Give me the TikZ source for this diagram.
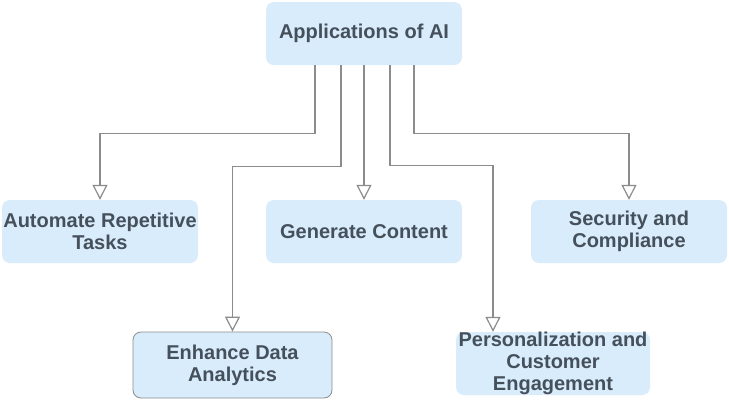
\documentclass[tikz,border=0pt]{standalone}
\usepackage{fontspec}
\setmainfont{Liberation Sans}
\usetikzlibrary{arrows.meta,positioning}
\definecolor{boxfill}{HTML}{D8ECFC}
\definecolor{boxtext}{HTML}{45505B}
\definecolor{linkgray}{HTML}{8C8C8C}
\tikzset{
  box/.style={rectangle, rounded corners=8pt, fill=boxfill, text=boxtext,
    minimum width=196pt, minimum height=63pt, inner sep=0pt, align=center,
    font=\fontsize{20}{22}\selectfont\bfseries},
  link/.style={draw=linkgray, line width=1.2pt,
    -{Triangle[open, length=15pt, width=15pt, fill=white]}}
}
\begin{document}
\begin{tikzpicture}[x=1pt, y=-1pt]
  \useasboundingbox[fill=white] (0,0) rectangle (729,400);

  \node (root) [box] at (364,33.5) {Applications of AI};
  \node (gen) [box, below of=root, node distance=198pt] {Generate Content};
  \node (auto) [box, left of=gen, node distance=264pt] {Automate Repetitive\\Tasks};
  \node (sec) [box, right of=gen, node distance=265pt] {Security and\\Compliance};
  \node (enh) [box, draw=linkgray, line width=0.8pt, minimum width=199pt,
    minimum height=66pt] at (232.5,365) {Enhance Data\\Analytics};
  \node (pers) [box, minimum width=194pt] at (553,363.5)
    {Personalization and\\Customer\\Engagement};

  \path
  ([xshift=-49pt]root.south) edge [link, to path={-- ++(0,68) -| (\tikztotarget)}] (auto.north)
  ([xshift=-23pt]root.south) edge [link, to path={-- ++(0,101) -| (\tikztotarget)}] (enh.north)
  (root.south) edge [link] (gen.north)
  ([xshift=26pt]root.south) edge [link, to path={-- ++(0,100) -| (\tikztotarget)}] ([xshift=-60pt]pers.north)
  ([xshift=50pt]root.south) edge [link, to path={-- ++(0,68) -| (\tikztotarget)}] (sec.north);
\end{tikzpicture}
\end{document}
